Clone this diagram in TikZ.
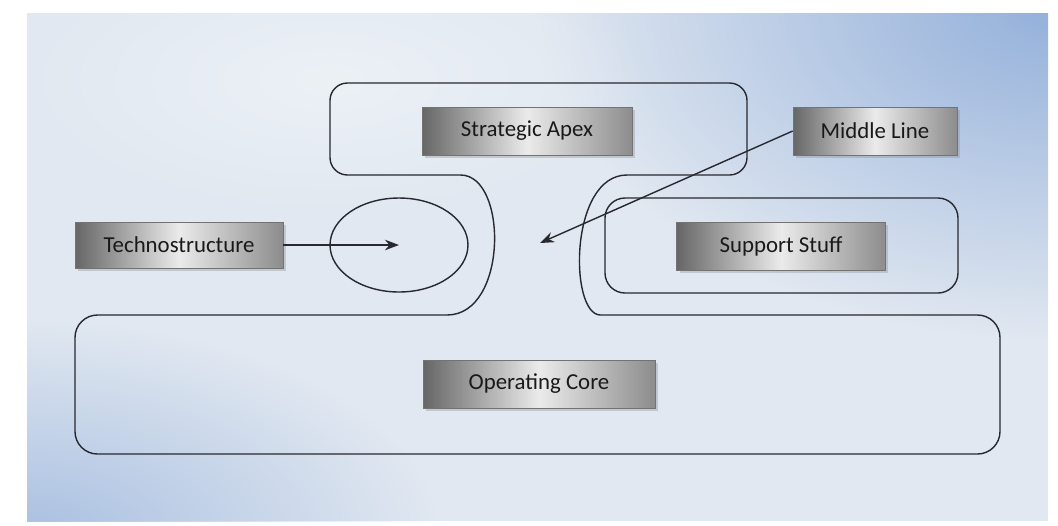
\documentclass[tikz,border=0pt]{standalone}
\usepackage{fontspec}
\setmainfont{Carlito}
\usepackage{tikz}
\usetikzlibrary{arrows.meta,shapes.geometric,shadows,fadings}
\definecolor{sfondoA}{RGB}{224,231,240}
\definecolor{sfondoB}{RGB}{146,175,218}
\definecolor{sfondoC}{RGB}{225,232,241}
\definecolor{bordo}{RGB}{40,40,46}
\tikzfading[name=alone, inner color=transparent!0, outer color=transparent!100]
\tikzset{
>=Stealth,
etichetta/.style={draw=black!55,line width=0.4pt,minimum height=0.96cm,inner sep=2pt,
  left color=black!60,right color=black!45,middle color=black!8,text=black!90,
  font=\fontsize{13}{15}\selectfont,
  drop shadow={shadow xshift=0.06cm,shadow yshift=-0.06cm,opacity=0.3}},
contorno/.style={draw=bordo,line width=0.8pt},
freccia/.style={-{Stealth[length=8pt,width=6pt]},line width=0.8pt,bordo}}

\begin{document}
\begin{tikzpicture}[x=0.02cm,y=-0.02cm]

\useasboundingbox (0,0) rectangle (1058,525);
\fill[white] (0,0) rectangle (1058,525);
\begin{scope}
\clip (27,13) rectangle (1048,521);
\fill[sfondoC] (27,13) rectangle (1048,521);
\fill[sfondoB,path fading=alone] (1060,0) ellipse [x radius=520, y radius=340];
\fill[sfondoB!80,path fading=alone] (20,540) ellipse [x radius=420, y radius=220];
\fill[sfondoA!60!white,path fading=alone] (330,80) ellipse [x radius=320, y radius=140];
\end{scope}

\draw[contorno] (443,175) .. controls (508,175) and (508,315) .. (447,315)
  [rounded corners=0.45cm] -- (75,315) -- (75,454) -- (1000,454) -- (1000,315) -- (623,315)
  [sharp corners] .. controls (569,315) and (569,175) .. (627,175)
  [rounded corners=0.35cm] -- (747,175) -- (747,83) -- (330,83) -- (330,175) -- cycle;
\draw[contorno,rounded corners=0.4cm] (605,198) rectangle (958,293);
\node[contorno,ellipse,minimum width=2.76cm,minimum height=1.88cm,inner sep=0pt] (tecnoarea) at (399,245) {};
\coordinate (collo) at (540,243);

\node[etichetta,minimum width=4.2cm] (apex) at (527,131) {Strategic Apex};
\node[etichetta,minimum width=3.28cm] (middle) at (875,131) {Middle Line};
\node[etichetta,minimum width=4.18cm] (support) at (781,246) {Support Stuff};
\node[etichetta,minimum width=4.16cm,minimum height=0.92cm] (techno) at (179,245) {Technostructure};
\node[etichetta,minimum width=4.64cm] (core) at (539,384) {Operating Core};

\draw[freccia] (techno) -- (tecnoarea.center);
\draw[freccia] (middle.west) -- (collo);
\end{tikzpicture}
\end{document}
